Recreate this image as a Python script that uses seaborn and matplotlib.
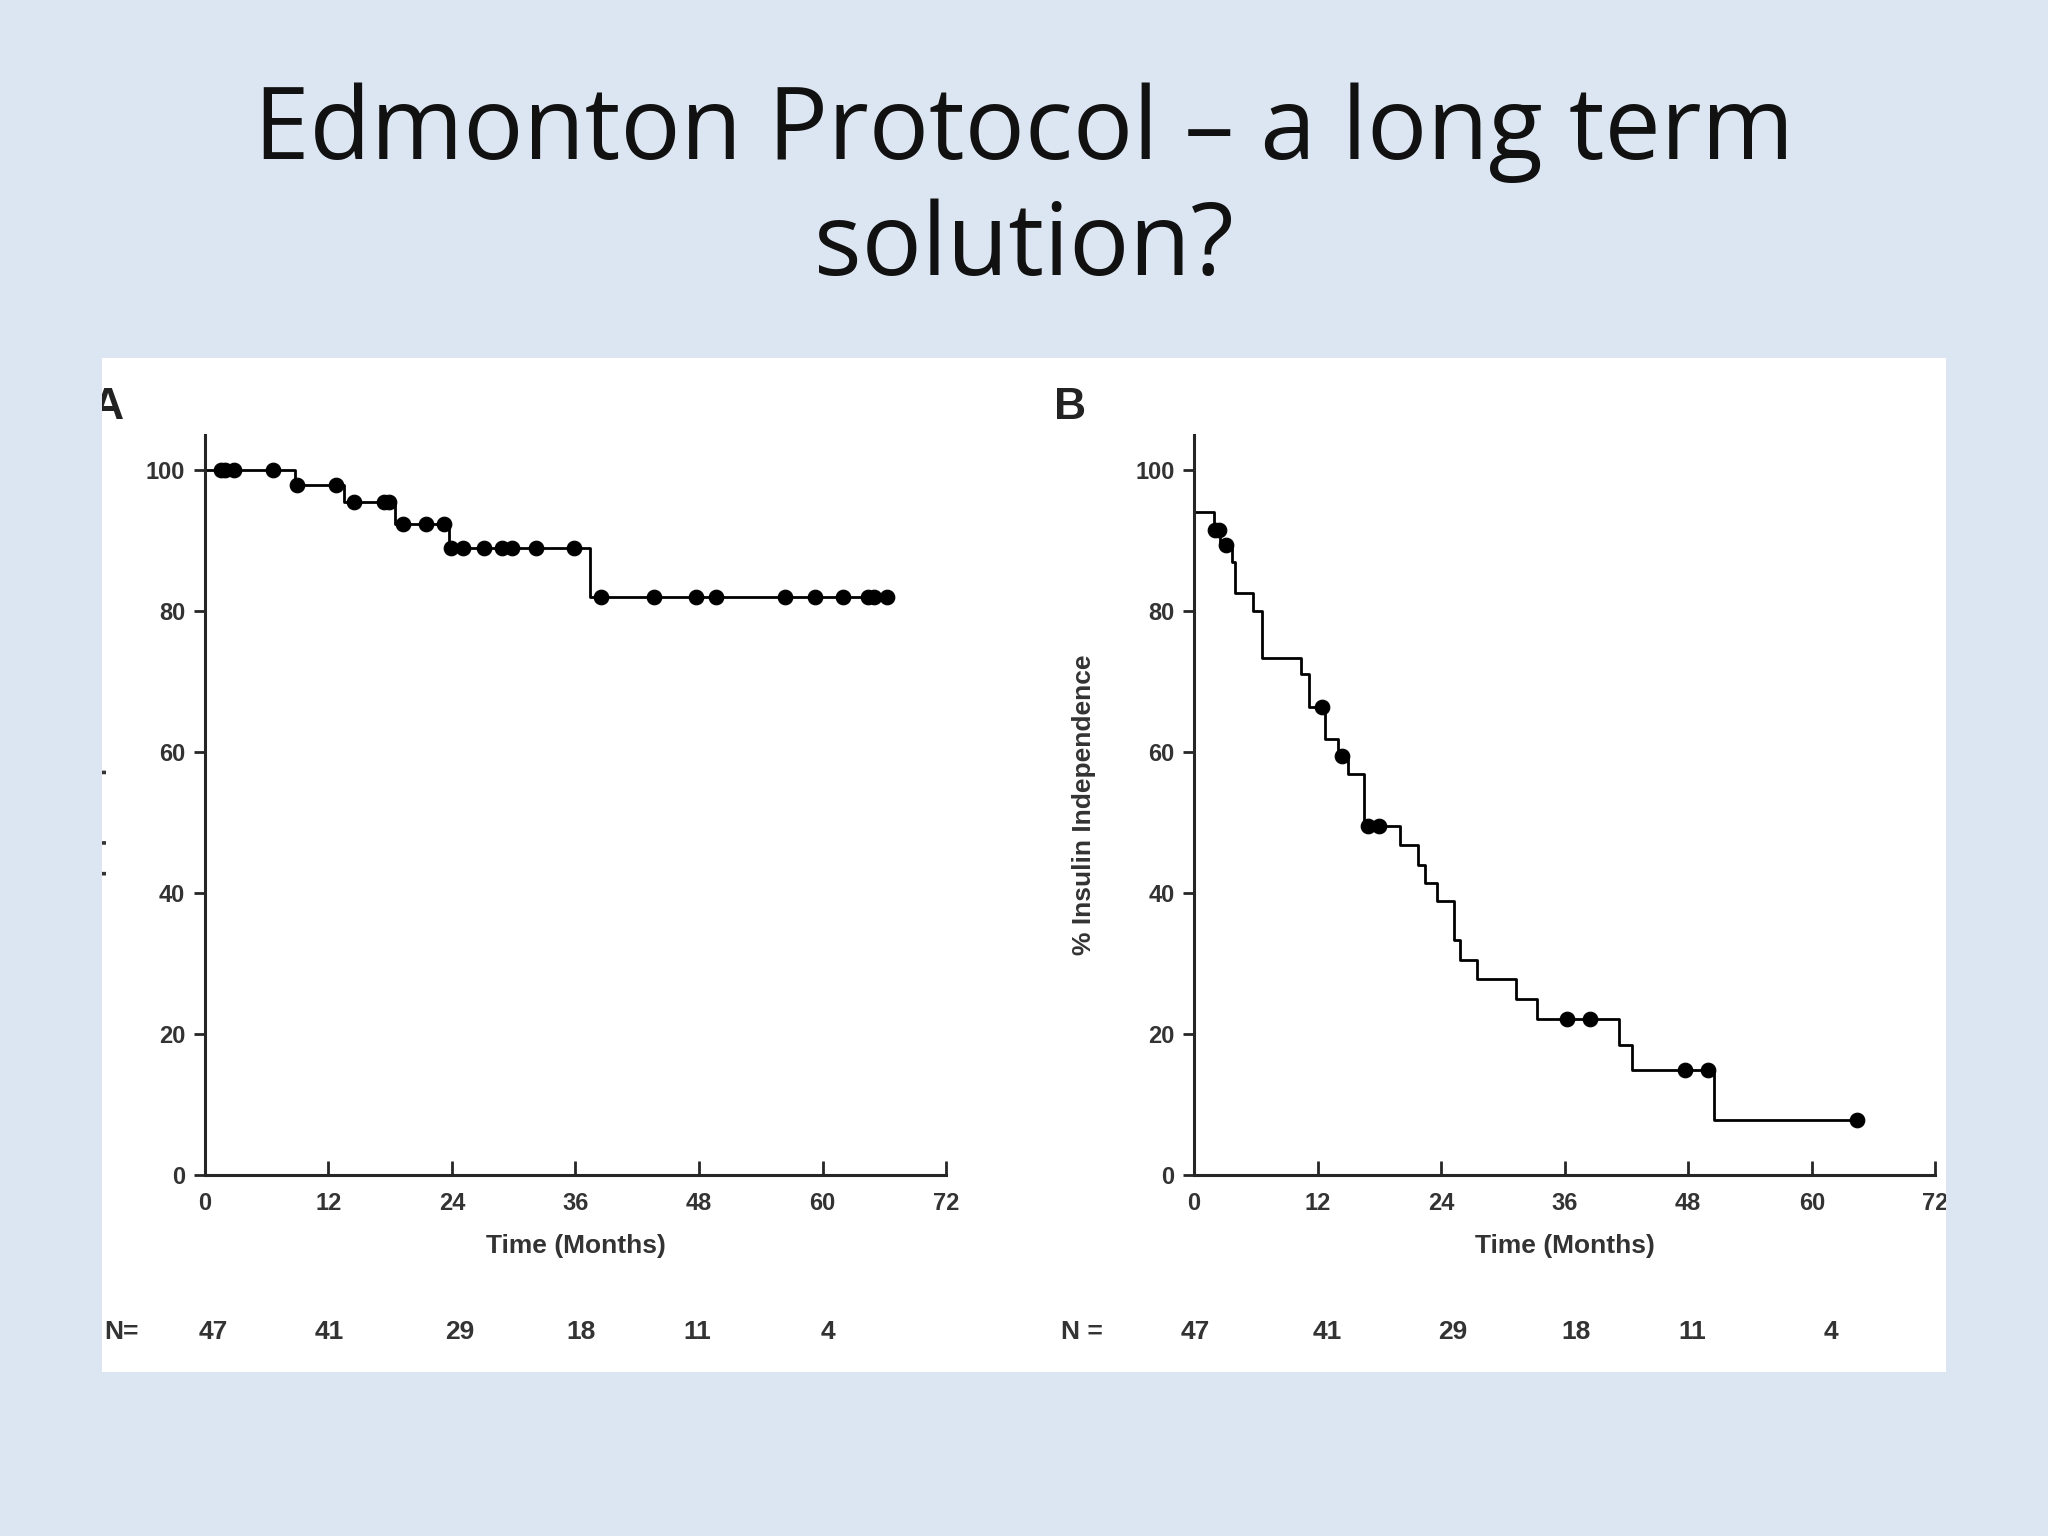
import numpy as np
import pandas as pd
import matplotlib.pyplot as plt
import seaborn as sns
from matplotlib.patches import Rectangle

sns.set_style("ticks")
plt.rcParams["font.family"] = ["Liberation Sans", "DejaVu Sans"]

# -------------------------
# Data
# -------------------------
title = "Edmonton Protocol \u2013 a long term\nsolution?"

# Panel A: C-peptide positive
a_times = [0, 8.8, 13.5, 18.5, 23.7, 37.4, 66.5]
a_surv = [100, 97.8, 95.4, 92.4, 88.9, 82.0, 82.0]
a_censor = [1.6, 2.0, 2.8, 6.6, 9.0, 12.7, 14.5, 17.4, 17.9, 19.2, 21.5, 23.2,
            23.9, 25.1, 27.1, 28.9, 29.8, 32.2, 35.9, 38.5, 43.6, 47.7, 49.6,
            56.3, 59.3, 62.0, 64.4, 65.0, 66.3]

# Panel B: insulin independence
b_times = [0, 1.9, 2.5, 3.7, 4.0, 5.7, 6.6, 10.4, 11.2, 12.7, 14.0, 15.0, 16.5,
           20.0, 21.8, 22.4, 23.6, 25.3, 25.8, 27.5, 31.3, 33.3, 41.3, 42.5,
           50.5, 64.6]
b_surv = [94, 91.5, 89.4, 87, 82.6, 80, 73.3, 71, 66.4, 61.8, 59.4, 56.9, 49.5,
          46.8, 44, 41.4, 38.8, 33.3, 30.5, 27.8, 25, 22.2, 18.5, 14.9, 7.8, 7.8]
b_censor = [2.0, 2.4, 3.1, 12.4, 14.4, 16.9, 18.0, 36.2, 38.5, 47.7, 49.9, 64.4]

n_at_risk = ["47", "41", "29", "18", "11", "4"]
a_n_x = [163, 252, 352, 445, 534, 634]      # display px positions
b_n_x = [915, 1016, 1112, 1207, 1296, 1402]


def step_value(times, surv, t):
    idx = np.searchsorted(times, t, side="right") - 1
    return surv[idx]


# -------------------------
# Figure
# -------------------------
fig = plt.figure(figsize=(20.48, 15.36), dpi=100)
fig.patch.set_facecolor("#dce6f2")
fig.text(0.5, 0.876, title, ha="center", va="center", fontsize=72,
         family=["Open Sans", "DejaVu Sans"], color="#111111", linespacing=1.2)

panel = Rectangle((0.0497, 0.107), 0.9005, 0.660, transform=fig.transFigure,
                  facecolor="white", edgecolor="none", zorder=-10)
fig.patches.append(panel)

W, H = 1568, 1176


def fx(px):
    return px / W


def fy(py):
    return 1 - py / H


panels = [
    (0.100, a_times, a_surv, a_censor, "% C-peptide positive", "A", "N=",
     a_n_x, 78),
    (0.583, b_times, b_surv, b_censor, "% Insulin Independence", "B", "N =",
     b_n_x, 812),
]

for left, times, surv, cens, ylab, letter, nlab, nx, nlx in panels:
    ax = fig.add_axes([left, 0.235, 0.362, 0.482])
    ax.set_facecolor("none")
    df = pd.DataFrame({"t": times, "s": surv})
    sns.lineplot(data=df, x="t", y="s", drawstyle="steps-post", color="black",
                 lw=2, ax=ax)
    cdf = pd.DataFrame({"t": cens,
                        "s": [step_value(times, surv, c) for c in cens]})
    sns.scatterplot(data=cdf, x="t", y="s", color="black", s=110,
                    edgecolor="black", ax=ax, zorder=3)
    ax.set_xlim(0, 72)
    ax.set_ylim(0, 105)
    ax.set_xticks(range(0, 73, 12))
    ax.set_yticks(range(0, 101, 20))
    ax.spines["top"].set_visible(False)
    ax.spines["right"].set_visible(False)
    for sp in ["left", "bottom"]:
        ax.spines[sp].set_linewidth(2.2)
    ax.tick_params(direction="in", length=10, width=2, labelsize=17, pad=12)
    ax.tick_params(axis="y", direction="out", length=8, pad=6)
    for lb in ax.get_xticklabels() + ax.get_yticklabels():
        lb.set_fontweight("bold")
        lb.set_color("#333333")
    ax.set_xlabel("Time (Months)", fontsize=19, fontweight="bold",
                  color="#333333", labelpad=14)
    ax.set_ylabel(ylab, fontsize=19, fontweight="bold", color="#333333",
                  labelpad=28)
    ax.yaxis.label.set_clip_path(panel)

    t = fig.text(fx(nlx - 8 if letter == "A" else nlx - 5), fy(312), letter,
                 fontsize=32, fontweight="bold", va="center", color="#222222")
    t.set_clip_path(panel)
    t = fig.text(fx(nlx + (2 if letter == "A" else 0)), fy(1020), nlab,
                 fontsize=19, fontweight="bold", va="center", color="#333333")
    t.set_clip_path(panel)
    for x, n in zip(nx, n_at_risk):
        fig.text(fx(x), fy(1020), n, fontsize=19, fontweight="bold",
                 ha="center", va="center", color="#333333")
    if letter == "B":
        for lb in ax.get_xticklabels():
            lb.set_clip_path(panel)

fig.savefig("out.png", dpi=100, facecolor=fig.get_facecolor())
